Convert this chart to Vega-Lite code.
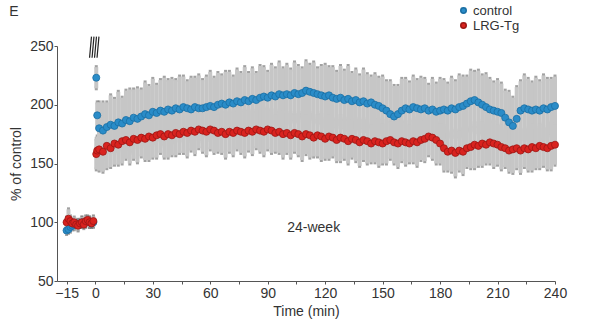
{
  "$schema": "https://vega.github.io/schema/vega-lite/v6.json",
  "width": 498,
  "height": 235,
  "autosize": {"type": "none"},
  "padding": {"left": 57, "top": 46, "right": 36, "bottom": 47},
  "background": "white",
  "config": {
    "view": {"stroke": null},
    "font": "Liberation Sans",
    "axis": {"labelFont": "Liberation Sans", "titleFont": "Liberation Sans", "labelFontSize": 14, "titleFontSize": 14, "titleFontWeight": "normal", "labelColor": "#333", "titleColor": "#333", "domainColor": "#555", "tickColor": "#555", "tickSize": 3, "grid": false},
    "legend": {"labelFont": "Liberation Sans", "labelFontSize": 13, "labelColor": "#333"}
  },
  "datasets": {
    "d": [
      {"t":-15,"g":"control","v":93,"e":3},{"t":-14,"g":"control","v":94,"e":3},{"t":-13,"g":"control","v":96,"e":4},{"t":-12,"g":"control","v":97,"e":3},{"t":-11,"g":"control","v":98,"e":4},{"t":-10,"g":"control","v":99,"e":3},{"t":-9,"g":"control","v":98,"e":4},{"t":-8,"g":"control","v":99,"e":3},{"t":-7,"g":"control","v":100,"e":4},{"t":-6,"g":"control","v":99,"e":3},{"t":-5,"g":"control","v":100,"e":4},{"t":-4,"g":"control","v":101,"e":3},{"t":-3,"g":"control","v":100,"e":4},{"t":-2,"g":"control","v":99,"e":3},{"t":-1,"g":"control","v":100,"e":4},
      {"t":0.5,"g":"control","v":223,"e":9},{"t":1,"g":"control","v":191,"e":11},
      {"t":2,"g":"control","v":180,"e":22},{"t":4,"g":"control","v":178,"e":24},{"t":6,"g":"control","v":181,"e":21},{"t":8,"g":"control","v":183,"e":25},{"t":10,"g":"control","v":182,"e":23},{"t":12,"g":"control","v":185,"e":26},{"t":14,"g":"control","v":184,"e":22},{"t":16,"g":"control","v":187,"e":25},{"t":18,"g":"control","v":186,"e":27},{"t":20,"g":"control","v":189,"e":24},
      {"t":22,"g":"control","v":188,"e":26},{"t":24,"g":"control","v":190,"e":23},{"t":26,"g":"control","v":192,"e":27},{"t":28,"g":"control","v":191,"e":25},{"t":30,"g":"control","v":194,"e":28},{"t":32,"g":"control","v":193,"e":24},{"t":34,"g":"control","v":195,"e":26},{"t":36,"g":"control","v":194,"e":29},{"t":38,"g":"control","v":196,"e":25},{"t":40,"g":"control","v":195,"e":27},
      {"t":42,"g":"control","v":197,"e":24},{"t":44,"g":"control","v":196,"e":28},{"t":46,"g":"control","v":198,"e":26},{"t":48,"g":"control","v":197,"e":23},{"t":50,"g":"control","v":196,"e":27},{"t":52,"g":"control","v":198,"e":25},{"t":54,"g":"control","v":197,"e":28},{"t":56,"g":"control","v":197,"e":24},{"t":58,"g":"control","v":198,"e":26},{"t":60,"g":"control","v":199,"e":29},
      {"t":62,"g":"control","v":198,"e":25},{"t":64,"g":"control","v":200,"e":27},{"t":66,"g":"control","v":201,"e":24},{"t":68,"g":"control","v":200,"e":28},{"t":70,"g":"control","v":202,"e":26},{"t":72,"g":"control","v":201,"e":23},{"t":74,"g":"control","v":203,"e":27},{"t":76,"g":"control","v":202,"e":25},{"t":78,"g":"control","v":204,"e":28},{"t":80,"g":"control","v":203,"e":24},
      {"t":82,"g":"control","v":205,"e":26},{"t":84,"g":"control","v":204,"e":23},{"t":86,"g":"control","v":206,"e":27},{"t":88,"g":"control","v":207,"e":25},{"t":90,"g":"control","v":206,"e":22},{"t":92,"g":"control","v":208,"e":26},{"t":94,"g":"control","v":207,"e":24},{"t":96,"g":"control","v":209,"e":27},{"t":98,"g":"control","v":208,"e":23},{"t":100,"g":"control","v":209,"e":25},
      {"t":102,"g":"control","v":208,"e":22},{"t":104,"g":"control","v":210,"e":26},{"t":106,"g":"control","v":209,"e":24},{"t":108,"g":"control","v":210,"e":21},{"t":110,"g":"control","v":212,"e":25},{"t":112,"g":"control","v":211,"e":23},{"t":114,"g":"control","v":210,"e":26},{"t":116,"g":"control","v":209,"e":22},{"t":118,"g":"control","v":208,"e":25},{"t":120,"g":"control","v":207,"e":27},
      {"t":122,"g":"control","v":208,"e":24},{"t":124,"g":"control","v":206,"e":26},{"t":126,"g":"control","v":205,"e":23},{"t":128,"g":"control","v":206,"e":27},{"t":130,"g":"control","v":204,"e":25},{"t":132,"g":"control","v":205,"e":28},{"t":134,"g":"control","v":203,"e":24},{"t":136,"g":"control","v":204,"e":26},{"t":138,"g":"control","v":202,"e":23},{"t":140,"g":"control","v":203,"e":27},
      {"t":142,"g":"control","v":201,"e":25},{"t":144,"g":"control","v":202,"e":22},{"t":146,"g":"control","v":200,"e":26},{"t":148,"g":"control","v":199,"e":24},{"t":150,"g":"control","v":197,"e":27},{"t":152,"g":"control","v":195,"e":25},{"t":154,"g":"control","v":192,"e":28},{"t":156,"g":"control","v":190,"e":26},{"t":158,"g":"control","v":192,"e":24},{"t":160,"g":"control","v":195,"e":27},
      {"t":162,"g":"control","v":197,"e":25},{"t":164,"g":"control","v":196,"e":23},{"t":166,"g":"control","v":198,"e":26},{"t":168,"g":"control","v":197,"e":24},{"t":170,"g":"control","v":196,"e":27},{"t":172,"g":"control","v":197,"e":25},{"t":174,"g":"control","v":195,"e":22},{"t":176,"g":"control","v":196,"e":26},{"t":178,"g":"control","v":194,"e":24},{"t":180,"g":"control","v":195,"e":27},
      {"t":182,"g":"control","v":196,"e":25},{"t":184,"g":"control","v":195,"e":23},{"t":186,"g":"control","v":197,"e":26},{"t":188,"g":"control","v":196,"e":24},{"t":190,"g":"control","v":198,"e":27},{"t":192,"g":"control","v":199,"e":25},{"t":194,"g":"control","v":201,"e":23},{"t":196,"g":"control","v":203,"e":26},{"t":198,"g":"control","v":204,"e":24},{"t":200,"g":"control","v":202,"e":27},
      {"t":202,"g":"control","v":200,"e":25},{"t":204,"g":"control","v":198,"e":28},{"t":206,"g":"control","v":196,"e":26},{"t":208,"g":"control","v":195,"e":24},{"t":210,"g":"control","v":194,"e":27},{"t":212,"g":"control","v":193,"e":25},{"t":214,"g":"control","v":189,"e":23},{"t":216,"g":"control","v":185,"e":26},{"t":218,"g":"control","v":182,"e":24},{"t":220,"g":"control","v":188,"e":27},
      {"t":222,"g":"control","v":195,"e":25},{"t":224,"g":"control","v":197,"e":28},{"t":226,"g":"control","v":196,"e":26},{"t":228,"g":"control","v":195,"e":24},{"t":230,"g":"control","v":196,"e":27},{"t":232,"g":"control","v":195,"e":25},{"t":234,"g":"control","v":197,"e":28},{"t":236,"g":"control","v":196,"e":26},{"t":238,"g":"control","v":198,"e":24},{"t":240,"g":"control","v":199,"e":25},

      {"t":-15,"g":"LRG-Tg","v":100,"e":4},{"t":-14,"g":"LRG-Tg","v":103,"e":8},{"t":-13,"g":"LRG-Tg","v":101,"e":4},{"t":-12,"g":"LRG-Tg","v":99,"e":3},{"t":-11,"g":"LRG-Tg","v":100,"e":4},{"t":-10,"g":"LRG-Tg","v":98,"e":3},{"t":-9,"g":"LRG-Tg","v":97,"e":4},{"t":-8,"g":"LRG-Tg","v":99,"e":3},{"t":-7,"g":"LRG-Tg","v":100,"e":4},{"t":-6,"g":"LRG-Tg","v":98,"e":3},{"t":-5,"g":"LRG-Tg","v":101,"e":4},{"t":-4,"g":"LRG-Tg","v":102,"e":3},{"t":-3,"g":"LRG-Tg","v":100,"e":4},{"t":-2,"g":"LRG-Tg","v":99,"e":3},{"t":-1,"g":"LRG-Tg","v":101,"e":4},
      {"t":0.5,"g":"LRG-Tg","v":158,"e":13},{"t":1,"g":"LRG-Tg","v":161,"e":12},
      {"t":2,"g":"LRG-Tg","v":162,"e":18},{"t":4,"g":"LRG-Tg","v":160,"e":17},{"t":6,"g":"LRG-Tg","v":165,"e":19},{"t":8,"g":"LRG-Tg","v":163,"e":16},{"t":10,"g":"LRG-Tg","v":167,"e":18},{"t":12,"g":"LRG-Tg","v":166,"e":17},{"t":14,"g":"LRG-Tg","v":169,"e":19},{"t":16,"g":"LRG-Tg","v":170,"e":16},{"t":18,"g":"LRG-Tg","v":168,"e":18},{"t":20,"g":"LRG-Tg","v":171,"e":17},
      {"t":22,"g":"LRG-Tg","v":170,"e":19},{"t":24,"g":"LRG-Tg","v":172,"e":16},{"t":26,"g":"LRG-Tg","v":171,"e":18},{"t":28,"g":"LRG-Tg","v":173,"e":20},{"t":30,"g":"LRG-Tg","v":172,"e":17},{"t":32,"g":"LRG-Tg","v":174,"e":19},{"t":34,"g":"LRG-Tg","v":175,"e":16},{"t":36,"g":"LRG-Tg","v":173,"e":18},{"t":38,"g":"LRG-Tg","v":175,"e":20},{"t":40,"g":"LRG-Tg","v":174,"e":17},
      {"t":42,"g":"LRG-Tg","v":176,"e":19},{"t":44,"g":"LRG-Tg","v":175,"e":16},{"t":46,"g":"LRG-Tg","v":177,"e":18},{"t":48,"g":"LRG-Tg","v":176,"e":20},{"t":50,"g":"LRG-Tg","v":178,"e":17},{"t":52,"g":"LRG-Tg","v":177,"e":19},{"t":54,"g":"LRG-Tg","v":179,"e":16},{"t":56,"g":"LRG-Tg","v":178,"e":18},{"t":58,"g":"LRG-Tg","v":177,"e":20},{"t":60,"g":"LRG-Tg","v":179,"e":17},
      {"t":62,"g":"LRG-Tg","v":178,"e":19},{"t":64,"g":"LRG-Tg","v":176,"e":16},{"t":66,"g":"LRG-Tg","v":177,"e":18},{"t":68,"g":"LRG-Tg","v":175,"e":20},{"t":70,"g":"LRG-Tg","v":177,"e":17},{"t":72,"g":"LRG-Tg","v":176,"e":19},{"t":74,"g":"LRG-Tg","v":178,"e":16},{"t":76,"g":"LRG-Tg","v":177,"e":18},{"t":78,"g":"LRG-Tg","v":176,"e":20},{"t":80,"g":"LRG-Tg","v":178,"e":17},
      {"t":82,"g":"LRG-Tg","v":177,"e":19},{"t":84,"g":"LRG-Tg","v":179,"e":16},{"t":86,"g":"LRG-Tg","v":178,"e":18},{"t":88,"g":"LRG-Tg","v":177,"e":20},{"t":90,"g":"LRG-Tg","v":179,"e":17},{"t":92,"g":"LRG-Tg","v":178,"e":19},{"t":94,"g":"LRG-Tg","v":176,"e":16},{"t":96,"g":"LRG-Tg","v":177,"e":18},{"t":98,"g":"LRG-Tg","v":175,"e":20},{"t":100,"g":"LRG-Tg","v":176,"e":17},
      {"t":102,"g":"LRG-Tg","v":174,"e":19},{"t":104,"g":"LRG-Tg","v":176,"e":16},{"t":106,"g":"LRG-Tg","v":175,"e":18},{"t":108,"g":"LRG-Tg","v":173,"e":20},{"t":110,"g":"LRG-Tg","v":175,"e":17},{"t":112,"g":"LRG-Tg","v":174,"e":19},{"t":114,"g":"LRG-Tg","v":172,"e":16},{"t":116,"g":"LRG-Tg","v":174,"e":18},{"t":118,"g":"LRG-Tg","v":173,"e":20},{"t":120,"g":"LRG-Tg","v":171,"e":17},
      {"t":122,"g":"LRG-Tg","v":173,"e":19},{"t":124,"g":"LRG-Tg","v":172,"e":16},{"t":126,"g":"LRG-Tg","v":170,"e":18},{"t":128,"g":"LRG-Tg","v":172,"e":20},{"t":130,"g":"LRG-Tg","v":171,"e":17},{"t":132,"g":"LRG-Tg","v":169,"e":19},{"t":134,"g":"LRG-Tg","v":171,"e":16},{"t":136,"g":"LRG-Tg","v":170,"e":18},{"t":138,"g":"LRG-Tg","v":168,"e":20},{"t":140,"g":"LRG-Tg","v":170,"e":17},
      {"t":142,"g":"LRG-Tg","v":169,"e":19},{"t":144,"g":"LRG-Tg","v":167,"e":16},{"t":146,"g":"LRG-Tg","v":169,"e":18},{"t":148,"g":"LRG-Tg","v":168,"e":20},{"t":150,"g":"LRG-Tg","v":167,"e":17},{"t":152,"g":"LRG-Tg","v":169,"e":19},{"t":154,"g":"LRG-Tg","v":170,"e":16},{"t":156,"g":"LRG-Tg","v":168,"e":18},{"t":158,"g":"LRG-Tg","v":167,"e":20},{"t":160,"g":"LRG-Tg","v":169,"e":17},
      {"t":162,"g":"LRG-Tg","v":168,"e":19},{"t":164,"g":"LRG-Tg","v":167,"e":16},{"t":166,"g":"LRG-Tg","v":169,"e":18},{"t":168,"g":"LRG-Tg","v":168,"e":20},{"t":170,"g":"LRG-Tg","v":170,"e":17},{"t":172,"g":"LRG-Tg","v":171,"e":19},{"t":174,"g":"LRG-Tg","v":173,"e":16},{"t":176,"g":"LRG-Tg","v":172,"e":18},{"t":178,"g":"LRG-Tg","v":170,"e":20},{"t":180,"g":"LRG-Tg","v":167,"e":17},
      {"t":182,"g":"LRG-Tg","v":163,"e":19},{"t":184,"g":"LRG-Tg","v":160,"e":16},{"t":186,"g":"LRG-Tg","v":161,"e":18},{"t":188,"g":"LRG-Tg","v":159,"e":20},{"t":190,"g":"LRG-Tg","v":161,"e":17},{"t":192,"g":"LRG-Tg","v":160,"e":19},{"t":194,"g":"LRG-Tg","v":163,"e":16},{"t":196,"g":"LRG-Tg","v":164,"e":18},{"t":198,"g":"LRG-Tg","v":166,"e":20},{"t":200,"g":"LRG-Tg","v":165,"e":17},
      {"t":202,"g":"LRG-Tg","v":167,"e":19},{"t":204,"g":"LRG-Tg","v":166,"e":16},{"t":206,"g":"LRG-Tg","v":168,"e":18},{"t":208,"g":"LRG-Tg","v":167,"e":20},{"t":210,"g":"LRG-Tg","v":166,"e":17},{"t":212,"g":"LRG-Tg","v":164,"e":19},{"t":214,"g":"LRG-Tg","v":163,"e":16},{"t":216,"g":"LRG-Tg","v":161,"e":18},{"t":218,"g":"LRG-Tg","v":162,"e":20},{"t":220,"g":"LRG-Tg","v":163,"e":17},
      {"t":222,"g":"LRG-Tg","v":161,"e":19},{"t":224,"g":"LRG-Tg","v":163,"e":16},{"t":226,"g":"LRG-Tg","v":162,"e":18},{"t":228,"g":"LRG-Tg","v":164,"e":20},{"t":230,"g":"LRG-Tg","v":163,"e":17},{"t":232,"g":"LRG-Tg","v":165,"e":19},{"t":234,"g":"LRG-Tg","v":164,"e":16},{"t":236,"g":"LRG-Tg","v":163,"e":18},{"t":238,"g":"LRG-Tg","v":165,"e":20},{"t":240,"g":"LRG-Tg","v":166,"e":17}
    ],
    "stim": [
      {"t":-3.0,"t2":-2.0,"v":240,"v2":258},
      {"t":-1.7,"t2":-0.7,"v":240,"v2":258},
      {"t":-0.4,"t2":0.6,"v":240,"v2":258},
      {"t":0.9,"t2":1.9,"v":240,"v2":258}
    ],
    "labels": [
      {"t":114,"v":95,"txt":"24-week"},
      {"t":-42.5,"v":279,"txt":"E"}
    ]
  },
  "encoding": {
    "x": {"field": "t", "type": "quantitative", "scale": {"domain": [-20, 240], "nice": false, "zero": false},
      "axis": {"title": "Time (min)", "values": [-15,0,15,30,45,60,75,90,105,120,135,150,165,180,195,210,225,240], "labelExpr": "datum.value % 30 == 15 ? '' : datum.label", "labelPadding": 2, "titlePadding": 4, "labelFlush": false}},
    "y": {"field": "v", "type": "quantitative", "scale": {"domain": [50, 250], "nice": false, "zero": false},
      "axis": {"title": "% of control", "values": [50,100,150,200,250], "labelPadding": 1, "titlePadding": 6}}
  },
  "layer": [
    {
      "data": {"name": "d"},
      "mark": {"type": "errorbar", "color": "#c6c6c6", "thickness": 4, "ticks": {"color": "#7a7a7a", "size": 3}},
      "encoding": {"yError": {"field": "e"}, "detail": {"field": "g"}}
    },
    {
      "data": {"name": "d"},
      "mark": {"type": "circle", "size": 50, "opacity": 1, "strokeWidth": 0.8},
      "encoding": {
        "fill": {"field": "g", "type": "nominal", "scale": {"domain": ["control", "LRG-Tg"], "range": ["#2a8cc8", "#d9231f"]},
          "legend": {"title": null, "orient": "none", "legendX": 400, "legendY": -42, "symbolType": "circle", "symbolSize": 30, "rowPadding": 1, "labelOffset": 3}},
        "stroke": {"field": "g", "type": "nominal", "scale": {"domain": ["control", "LRG-Tg"], "range": ["#1b6ea3", "#9c1714"]}}
      }
    },
    {
      "data": {"name": "stim"},
      "mark": {"type": "rule", "color": "#222", "strokeWidth": 1.2},
      "encoding": {"x2": {"field": "t2"}, "y2": {"field": "v2"}}
    },
    {
      "data": {"name": "labels"},
      "mark": {"type": "text", "font": "Liberation Sans", "fontSize": 14, "color": "#333", "align": "center", "baseline": "middle"},
      "encoding": {"text": {"field": "txt"}}
    }
  ]
}
